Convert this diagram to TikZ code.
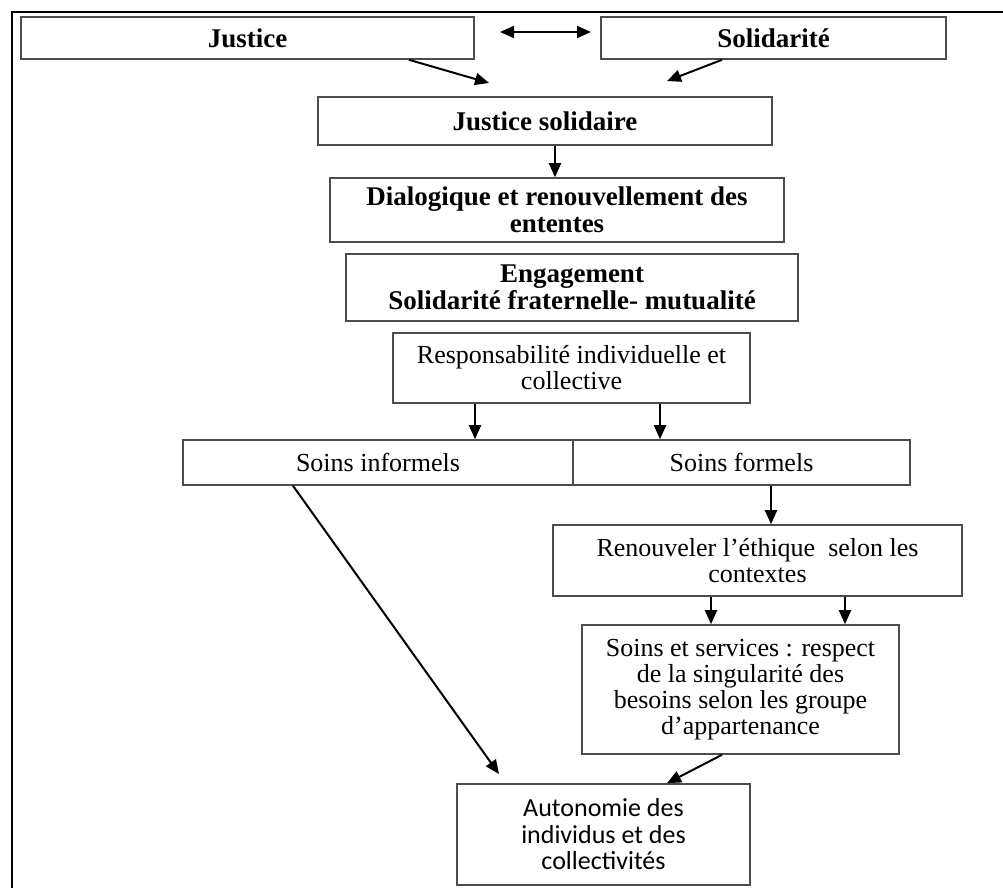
\documentclass[tikz,border=0pt]{standalone}
\usepackage{fontspec}
\setmainfont{Liberation Serif}
\newfontfamily\calibrifont{Carlito}
\usepackage{tikz}
\usetikzlibrary{arrows.meta, positioning, calc}

\begin{document}
\begin{tikzpicture}[
  x=1pt, y=-1pt,
  box/.style={draw=black!70, line width=1.6pt, inner sep=0pt, align=center,
    font=\fontsize{26}{26}\selectfont},
  bbox/.style={box, font=\fontsize{27}{26.5}\selectfont\bfseries},
  arr/.style={-{Triangle[length=14pt,width=12pt]}, line width=2pt},
  darr/.style={{Triangle[length=14pt,width=12pt]}-{Triangle[length=14pt,width=12pt]}, line width=2pt}
]
\useasboundingbox (0,0) rectangle (1003,888);
\draw[line width=2.2pt] (1003,12) -- (12,12) -- (12,888);

\node[bbox, minimum width=453pt, minimum height=42pt] (just) at (247.5,38) {Justice};
\node[bbox, minimum width=345pt, minimum height=42pt] (soli) at (773.5,38) {Solidarité};
\node[bbox, minimum width=454pt, minimum height=48pt] (jsol) at (545,121) {Justice solidaire};
\node[bbox, minimum width=454pt, minimum height=64pt] (dial) at (557,210)
  {Dialogique et renouvellement des\\ententes};
\node[bbox, minimum width=452pt, minimum height=67pt] (enga) at (572,287.5)
  {Engagement\\Solidarité fraternelle- mutualité};
\node[box, minimum width=357pt, minimum height=70pt] (resp) at (571.5,368)
  {Responsabilité individuelle et\\collective};
\node[box, minimum width=390pt, minimum height=45pt] (sinf) at (378,462.5) {Soins informels};
\node[box, minimum width=337pt, minimum height=45pt] (sfor) at (741.5,462.5) {Soins formels};
\node[box, minimum width=409pt, minimum height=71pt] (reno) at (757.5,560.5)
  {Renouveler l’éthique~ selon les\\contextes};
\node[box, minimum width=317pt, minimum height=129pt] (sser) at (740.5,689.5)
  {Soins et services : respect\\de la singularité des\\besoins selon les groupe\\d’appartenance};
\node[box, minimum width=293pt, minimum height=101pt, font=\fontsize{26}{26.5}\selectfont\calibrifont]
  (auto) at (603.5,834.5) {Autonomie des\\individus et des\\collectivités};

\coordinate (dl) at (500,32);
\coordinate (dr) at (591,32);
\coordinate (jin) at (489,83);
\coordinate (sin) at (667,81);
\coordinate (ain) at (499,774);

\draw[darr] (dl) -- (dr);
\draw[arr] ([xshift=161.5pt]just.south) -- (jin);
\draw[arr] ([xshift=-51.5pt]soli.south) -- (sin);
\draw[arr] ([xshift=10pt]jsol.south) -- ([xshift=10pt]jsol.south |- dial.north);
\draw[arr] ([xshift=-96.5pt]resp.south) -- ([xshift=-96.5pt]resp.south |- sinf.north);
\draw[arr] ([xshift=88.5pt]resp.south) -- ([xshift=88.5pt]resp.south |- sfor.north);
\draw[arr] ([xshift=29.5pt]sfor.south) -- ([xshift=29.5pt]sfor.south |- reno.north);
\draw[arr] ([xshift=-46.5pt]reno.south) -- ([xshift=-46.5pt]reno.south |- sser.north);
\draw[arr] ([xshift=87.5pt]reno.south) -- ([xshift=87.5pt]reno.south |- sser.north);
\draw[arr] ([xshift=-18.5pt]sser.south) -- ([xshift=63.5pt]auto.north);
\draw[arr] ([xshift=-85pt]sinf.south) -- (ain);
\end{tikzpicture}
\end{document}
